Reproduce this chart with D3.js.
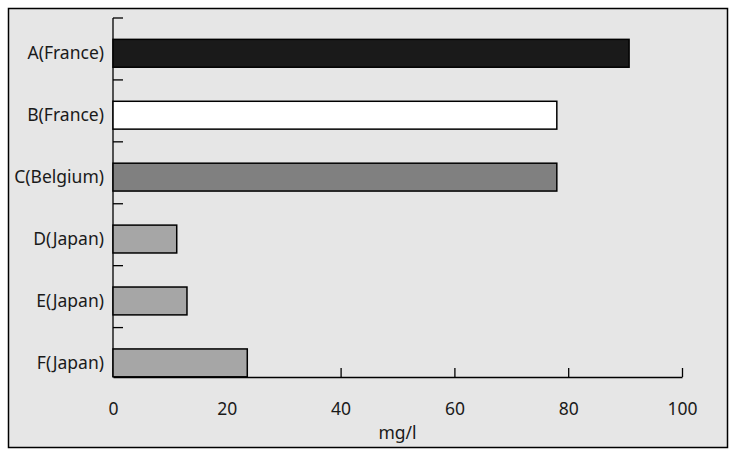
<!DOCTYPE html>
<html>
<head>
<meta charset="utf-8">
<script src="https://cdn.jsdelivr.net/npm/d3@7"></script>
<style>
  body { margin: 0; background: #fff; }
  text { font-family: "Noto Sans", sans-serif; fill: #1a1a1a; }
</style>
</head>
<body>
<div id="chart"></div>
<script>
const categories = ["A(France)", "B(France)", "C(Belgium)", "D(Japan)", "E(Japan)", "F(Japan)"]
const values = [90.7, 78.0, 78.0, 11.2, 13.0, 23.6]
const barColors = ["#1a1a1a", "#ffffff", "#808080", "#a6a6a6", "#a6a6a6", "#a6a6a6"]
const xTicks = [0, 20, 40, 60, 80, 100]
const xTitle = "mg/l"

const width = 740
const height = 454

const svg = d3.select("#chart")
    .append("svg")
    .attr("width", width)
    .attr("height", height)

// panel with border
svg.append("rect")
    .attr("x", 8.5).attr("y", 8.5)
    .attr("width", 719).attr("height", 439)
    .attr("fill", "#e6e6e6")
    .attr("stroke", "#000")
    .attr("stroke-width", 1.5)

const x = d3.scaleLinear().domain([0, 100]).range([113, 682])

// bands start at the category ticks
const y = d3.scaleBand().domain(categories).range([18, 389.5]).padding(0)
const step = y.step()
const barOffset = step * 0.345
const barHeight = step * 0.45

// x axis, ticks pointing up
const xAxis = svg.append("g")
    .attr("transform", "translate(0,377)")
    .call(d3.axisBottom(x).tickValues(xTicks).tickSizeInner(-9).tickSizeOuter(0).tickPadding(26))
xAxis.select(".domain").attr("stroke", "#000").attr("stroke-width", 1.3)
xAxis.selectAll(".tick line").attr("stroke", "#000").attr("stroke-width", 1.3)
xAxis.selectAll("text").style("font-size", "17.5px").attr("fill", "#1a1a1a")

// y axis line
svg.append("line")
    .attr("x1", x(0)).attr("x2", x(0))
    .attr("y1", y(categories[0])).attr("y2", 377)
    .attr("stroke", "#000").attr("stroke-width", 1.3)

// category ticks pointing right
svg.selectAll(".ytick")
    .data(categories)
    .enter()
    .append("line")
    .attr("class", "ytick")
    .attr("x1", x(0)).attr("x2", x(0) + 10)
    .attr("y1", d => y(d)).attr("y2", d => y(d))
    .attr("stroke", "#000").attr("stroke-width", 1.3)

// bars
svg.selectAll(".bar")
    .data(categories)
    .enter()
    .append("rect")
    .attr("class", "bar")
    .attr("x", x(0))
    .attr("y", d => y(d) + barOffset)
    .attr("width", (d, i) => x(values[i]) - x(0))
    .attr("height", barHeight)
    .attr("fill", (d, i) => barColors[i])
    .attr("stroke", "#000")
    .attr("stroke-width", 1.5)

// category labels
svg.selectAll(".ylabel")
    .data(categories)
    .enter()
    .append("text")
    .attr("class", "ylabel")
    .attr("x", 104)
    .attr("y", d => y(d) + barOffset + barHeight / 2)
    .attr("dy", "0.35em")
    .attr("text-anchor", "end")
    .style("font-size", "17.5px")
    .text(d => d)

// axis title
svg.append("text")
    .attr("x", (x(0) + x(100)) / 2)
    .attr("y", 439)
    .attr("text-anchor", "middle")
    .style("font-size", "17.5px")
    .text(xTitle)
</script>
</body>
</html>
